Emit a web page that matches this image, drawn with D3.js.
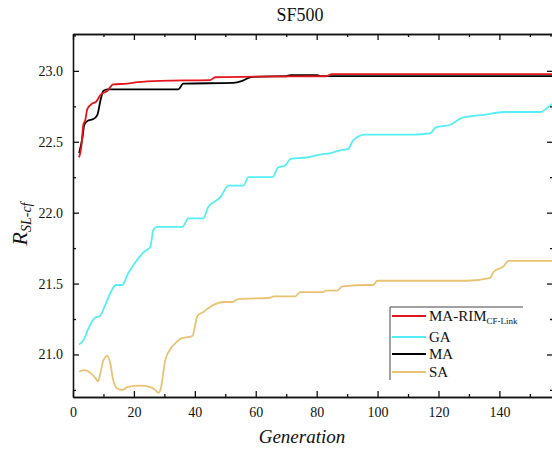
<!DOCTYPE html>
<html>
<head>
<meta charset="utf-8">
<script src="https://cdn.jsdelivr.net/npm/d3@7"></script>
<style>
  body { margin: 0; background: #fff; }
</style>
</head>
<body>
<div id="chart"></div>
<script>
// values as [generation, R_SL-cf]
const rimPoints = [[2, 22.39], [2.7, 22.46], [3.4, 22.62], [4, 22.65], [4.7, 22.73], [6.3, 22.77], [7.5, 22.78],
  [9, 22.83], [11.3, 22.86], [13.2, 22.905], [17.8, 22.91], [21.1, 22.92], [28.7, 22.93], [45, 22.935],
  [46.7, 22.955], [61.5, 22.96], [83, 22.962], [85, 22.977], [157.5, 22.977]]
const gaPoints = [[2, 21.07], [3.4, 21.10], [5, 21.18], [7.3, 21.26], [8.8, 21.27], [10.6, 21.35], [12.9, 21.46],
  [14, 21.49], [16.2, 21.49], [17.8, 21.56], [20.5, 21.65], [23.1, 21.72], [25.4, 21.76], [26.4, 21.88],
  [27.7, 21.90], [35.9, 21.90], [37.9, 21.96], [42.8, 21.96], [44.4, 22.04], [46.7, 22.08], [48.4, 22.11],
  [51, 22.19], [55.9, 22.19], [57.6, 22.25], [65.5, 22.25], [67.4, 22.32], [69.5, 22.33], [71.5, 22.38],
  [76.9, 22.39], [81.2, 22.41], [84.5, 22.42], [87.8, 22.44], [90.4, 22.45], [92, 22.51], [96, 22.55],
  [111.8, 22.55], [117.3, 22.56], [119, 22.60], [123.9, 22.62], [127.8, 22.67], [130.5, 22.68],
  [134.8, 22.69], [141.3, 22.71], [153.5, 22.71], [155.8, 22.74], [157.5, 22.77]]
const maPoints = [[2, 22.42], [3.1, 22.53], [3.7, 22.62], [5, 22.65], [6.7, 22.66], [8, 22.69], [9, 22.79],
  [10, 22.86], [11.3, 22.87], [34.6, 22.87], [36.2, 22.91], [52.6, 22.915], [55.6, 22.93], [58.2, 22.955],
  [61.5, 22.96], [70, 22.962], [71.4, 22.97], [80.2, 22.97], [81.2, 22.963], [157.5, 22.963]]
const saPoints = [[2, 20.88], [4, 20.89], [5.7, 20.87], [7.5, 20.83], [8.2, 20.81], [9, 20.87], [10, 20.96],
  [11.3, 20.99], [12.2, 20.94], [13.2, 20.82], [14.5, 20.76], [16.2, 20.75], [17.8, 20.77], [22.1, 20.78],
  [25.4, 20.77], [27, 20.75], [28, 20.73], [28.7, 20.75], [30.3, 20.96], [32, 21.04], [34.2, 21.09],
  [35.2, 21.11], [39.2, 21.13], [40.8, 21.27], [42.8, 21.30], [46.1, 21.35], [49.4, 21.37], [52.3, 21.37],
  [54.3, 21.39], [64.8, 21.40], [65.8, 21.41], [73, 21.41], [74.6, 21.44], [82.2, 21.44], [82.9, 21.45],
  [86.8, 21.45], [88.4, 21.48], [97.6, 21.49], [98.6, 21.49], [99.9, 21.52], [129.5, 21.52], [137, 21.54],
  [138, 21.58], [140.4, 21.61], [141.3, 21.62], [143, 21.66], [157.5, 21.66]]

const seriesNames = ['MA-RIM', 'GA', 'MA', 'SA']
const seriesColors = ['#e3161c', '#55eef4', '#000000', '#eac274']
const xTicks = [0, 20, 40, 60, 80, 100, 120, 140]
const xMinorTicks = [10, 30, 50, 70, 90, 110, 130, 150]
const yTicks = [21.0, 21.5, 22.0, 22.5, 23.0]
const yMinorTicks = [20.75, 21.25, 21.75, 22.25, 22.75, 23.25]

const FONT = 'Liberation Serif'
const width = 552, height = 449
const margin = { top: 34, right: -1, bottom: 52, left: 73 }

let svg = d3.select('#chart').append('svg')
    .attr('width', width)
    .attr('height', height)

let x = d3.scaleLinear().domain([0, 157.6]).range([margin.left, width - margin.right])
let y = d3.scaleLinear().domain([20.7, 23.26]).range([height - margin.bottom, margin.top])

svg.append('defs').append('clipPath').attr('id', 'plot')
    .append('rect')
    .attr('x', margin.left).attr('y', margin.top)
    .attr('width', width - margin.right - margin.left)
    .attr('height', height - margin.bottom - margin.top)

let line = d3.line()
    .x(d => x(d[0]))
    .y(d => y(d[1]))
    .curve(d3.curveMonotoneX)

const allSeries = [rimPoints, gaPoints, maPoints, saPoints]
let lines = svg.append('g').attr('clip-path', 'url(#plot)')
;[3, 1, 2, 0].forEach(i => {
  lines.append('path')
      .datum(allSeries[i])
      .attr('d', line)
      .attr('fill', 'none')
      .attr('stroke', seriesColors[i])
      .attr('stroke-width', 1.8)
      .attr('stroke-linejoin', 'round')
})

// axes, ticks pointing inward
const fmtX = d3.format('d'), fmtY = d3.format('.1f')
const bottomY = height - margin.bottom, rightX = width - margin.right

function styleAxis(g) {
  g.selectAll('path, line').attr('stroke', '#111').attr('stroke-width', 1.3)
  g.selectAll('text')
      .attr('font-size', 14)
      .attr('fill', '#111')
      .style('font-family', FONT)
}

svg.append('g').attr('transform', 'translate(0,' + bottomY + ')')
    .call(d3.axisBottom(x).tickValues(xTicks).tickFormat(fmtX).tickSizeInner(-6).tickSizeOuter(0).tickPadding(10))
    .call(styleAxis)
svg.append('g').attr('transform', 'translate(0,' + bottomY + ')')
    .call(d3.axisBottom(x).tickValues(xMinorTicks).tickFormat('').tickSizeInner(-3).tickSizeOuter(0))
    .call(styleAxis)
svg.append('g').attr('transform', 'translate(0,' + margin.top + ')')
    .call(d3.axisTop(x).tickValues(xTicks).tickFormat('').tickSizeInner(-6).tickSizeOuter(0))
    .call(styleAxis)
svg.append('g').attr('transform', 'translate(0,' + margin.top + ')')
    .call(d3.axisTop(x).tickValues(xMinorTicks).tickFormat('').tickSizeInner(-3).tickSizeOuter(0))
    .call(styleAxis)

svg.append('g').attr('transform', 'translate(' + margin.left + ',0)')
    .call(d3.axisLeft(y).tickValues(yTicks).tickFormat(fmtY).tickSizeInner(-6).tickSizeOuter(0).tickPadding(10))
    .call(styleAxis)
svg.append('g').attr('transform', 'translate(' + margin.left + ',0)')
    .call(d3.axisLeft(y).tickValues(yMinorTicks).tickFormat('').tickSizeInner(-3).tickSizeOuter(0))
    .call(styleAxis)
svg.append('g').attr('transform', 'translate(' + rightX + ',0)')
    .call(d3.axisRight(y).tickValues(yTicks).tickFormat('').tickSizeInner(-6).tickSizeOuter(0))
    .call(styleAxis)
svg.append('g').attr('transform', 'translate(' + rightX + ',0)')
    .call(d3.axisRight(y).tickValues(yMinorTicks).tickFormat('').tickSizeInner(-3).tickSizeOuter(0))
    .call(styleAxis)

// title and axis titles
svg.append('text')
    .attr('x', 300).attr('y', 21)
    .attr('text-anchor', 'middle')
    .style('font-family', FONT)
    .attr('font-size', 18)
    .attr('fill', '#111')
    .text('SF500')

svg.append('text')
    .attr('x', 302).attr('y', 443)
    .attr('text-anchor', 'middle')
    .style('font-family', FONT)
    .attr('font-size', 19)
    .attr('font-style', 'italic')
    .attr('fill', '#111')
    .text('Generation')

let yTitle = svg.append('text')
    .attr('transform', 'translate(27,224) rotate(-90)')
    .attr('text-anchor', 'middle')
    .style('font-family', FONT)
    .attr('font-style', 'italic')
    .attr('fill', '#111')
yTitle.append('tspan').attr('font-size', 22).text('R')
yTitle.append('tspan').attr('font-size', 14).attr('dy', 4).text('SL-cf')

// legend
const legendX = 390, legendY = 307
svg.append('line')
    .attr('x1', legendX).attr('x2', legendX + 133)
    .attr('y1', legendY).attr('y2', legendY)
    .attr('stroke', '#444').attr('stroke-width', 1)
svg.append('line')
    .attr('x1', legendX).attr('x2', legendX)
    .attr('y1', legendY).attr('y2', legendY + 73)
    .attr('stroke', '#444').attr('stroke-width', 1)

const legendRows = [316, 337, 354, 372]
seriesNames.forEach((name, i) => {
  let ly = legendRows[i]
  svg.append('line')
      .attr('x1', legendX + 2).attr('x2', legendX + 36)
      .attr('y1', ly).attr('y2', ly)
      .attr('stroke', seriesColors[i]).attr('stroke-width', 2)
  let t = svg.append('text')
      .attr('x', legendX + 39).attr('y', ly + 5)
      .style('font-family', FONT)
      .attr('font-size', 15)
      .attr('fill', '#111')
  t.append('tspan').text(name)
  if (i === 0) {
    t.append('tspan').attr('font-size', 9).attr('dy', 3).text('CF-Link')
  }
})
</script>
</body>
</html>
